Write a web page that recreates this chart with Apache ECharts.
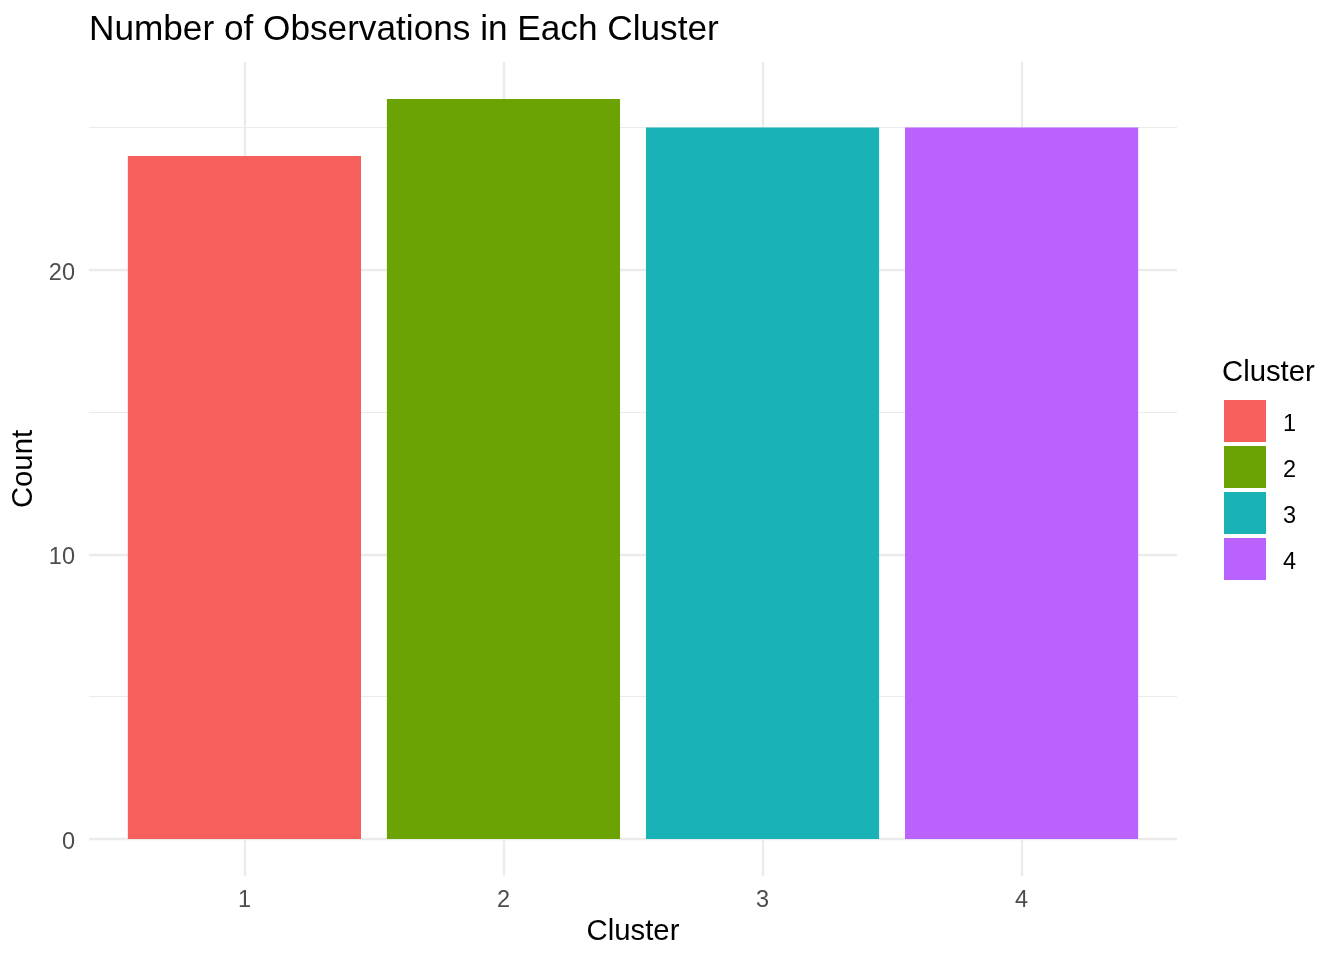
<!DOCTYPE html>
<html>
<head>
<meta charset="utf-8">
<title>Number of Observations in Each Cluster</title>
<script src="https://cdn.jsdelivr.net/npm/echarts@6/dist/echarts.min.js"></script>
<style>
  html, body { margin: 0; padding: 0; background: #fff; }
  #chart { width: 1344px; height: 960px; }
</style>
</head>
<body>
<div id="chart"></div>
<script>
var clusters = ['1', '2', '3', '4'];
var clusterPos = [1, 2, 3, 4];
var counts = [24, 26, 25, 25];
var yTickLabels = [0, 10, 20];
var xTickLabels = [1, 2, 3, 4];
var colorList = ['#F5605C', '#6BA305', '#19B2B7', '#B962FE'];

// ggplot style expansion: 5% on the counts, 0.6 on the discrete axis
var yMax = Math.max.apply(null, counts);
var yMin = Math.min(0, Math.min.apply(null, counts));
var yPad = (yMax - yMin) * 0.05;
var xMin = clusterPos[0] - 0.6;
var xMax = clusterPos[clusterPos.length - 1] + 0.6;

var gridLeft = 89, gridRight = 167, gridTop = 62, gridBottom = 84;
var gridW = 1344 - gridLeft - gridRight;
var barW = 0.9 * gridW / (xMax - xMin);

var fontName = '"Liberation Sans", Arial, Helvetica, sans-serif';
var gridColor = '#EBEBEB';

var series = [];
for (var i = 0; i < clusters.length; i++) {
    series.push({
        name: clusters[i],
        type: 'bar',
        data: [[clusterPos[i], counts[i]]],
        barWidth: barW,
        barGap: '-100%',
        itemStyle: { color: colorList[i] },
        z: 2
    });
}

var chart = echarts.init(document.getElementById('chart'), null, { renderer: 'canvas' });

var option = {
    animation: false,
    backgroundColor: '#ffffff',
    textStyle: { fontFamily: fontName },
    title: [{
        text: 'Number of Observations in Each Cluster',
        left: 89,
        top: 13,
        padding: 0,
        textStyle: { fontFamily: fontName, fontSize: 35.2, fontWeight: 'normal', color: '#000' }
    }, {
        text: 'Cluster',
        left: 1222,
        top: 358,
        padding: 0,
        textStyle: { fontFamily: fontName, fontSize: 29.3, fontWeight: 'normal', color: '#000' }
    }],
    legend: {
        orient: 'vertical',
        left: 1224,
        top: 400,
        padding: 0,
        itemWidth: 42,
        itemHeight: 42,
        itemGap: 4,
        icon: 'rect',
        data: clusters,
        formatter: function (name) {
            return '{t|' + name + '}';
        },
        textStyle: {
            rich: {
                t: { fontFamily: fontName, fontSize: 23.5, color: '#000', padding: [8, 0, 0, 12] }
            }
        }
    },
    grid: {
        left: gridLeft,
        right: gridRight,
        top: gridTop,
        bottom: gridBottom,
        containLabel: false
    },
    xAxis: {
        type: 'value',
        min: xMin,
        max: xMax,
        splitNumber: 4,
        name: 'Cluster',
        nameLocation: 'middle',
        nameGap: 39,
        nameTextStyle: { fontFamily: fontName, fontSize: 29.3, color: '#000' },
        axisLine: { show: false },
        axisTick: { show: false },
        axisLabel: {
            showMinLabel: false,
            showMaxLabel: false,
            margin: 13,
            fontFamily: fontName,
            fontSize: 23.5,
            color: '#4D4D4D',
            formatter: function (v) {
                return xTickLabels.indexOf(v) >= 0 ? String(v) : '';
            }
        },
        splitLine: {
            show: true,
            showMinLine: false,
            showMaxLine: false,
            lineStyle: { color: gridColor, width: 2.3 }
        }
    },
    yAxis: [{
        // major lines and labels
        type: 'value',
        min: yMin - yPad,
        max: yMax + yPad,
        splitNumber: 3,
        name: 'Count',
        nameLocation: 'middle',
        nameGap: 47,
        nameTextStyle: { fontFamily: fontName, fontSize: 29.3, color: '#000' },
        axisLine: { show: false },
        axisTick: { show: false },
        axisLabel: {
            showMinLabel: false,
            showMaxLabel: false,
            margin: 14,
            formatter: function (v) {
                return yTickLabels.indexOf(v) >= 0 ? '{t|' + v + '}' : '';
            },
            rich: {
                t: { fontFamily: fontName, fontSize: 23.5, color: '#4D4D4D', padding: [7, 0, 0, 0] }
            }
        },
        splitLine: {
            show: true,
            showMinLine: false,
            showMaxLine: false,
            lineStyle: { color: gridColor, width: 2.3 }
        }
    }, {
        // minor lines
        type: 'value',
        position: 'left',
        min: yMin - yPad,
        max: yMax + yPad,
        splitNumber: 5,
        axisLine: { show: false },
        axisTick: { show: false },
        axisLabel: { show: false },
        splitLine: {
            show: true,
            showMinLine: false,
            showMaxLine: false,
            lineStyle: { color: gridColor, width: 1.2 }
        }
    }],
    series: series
};
chart.setOption(option);
</script>
</body>
</html>
